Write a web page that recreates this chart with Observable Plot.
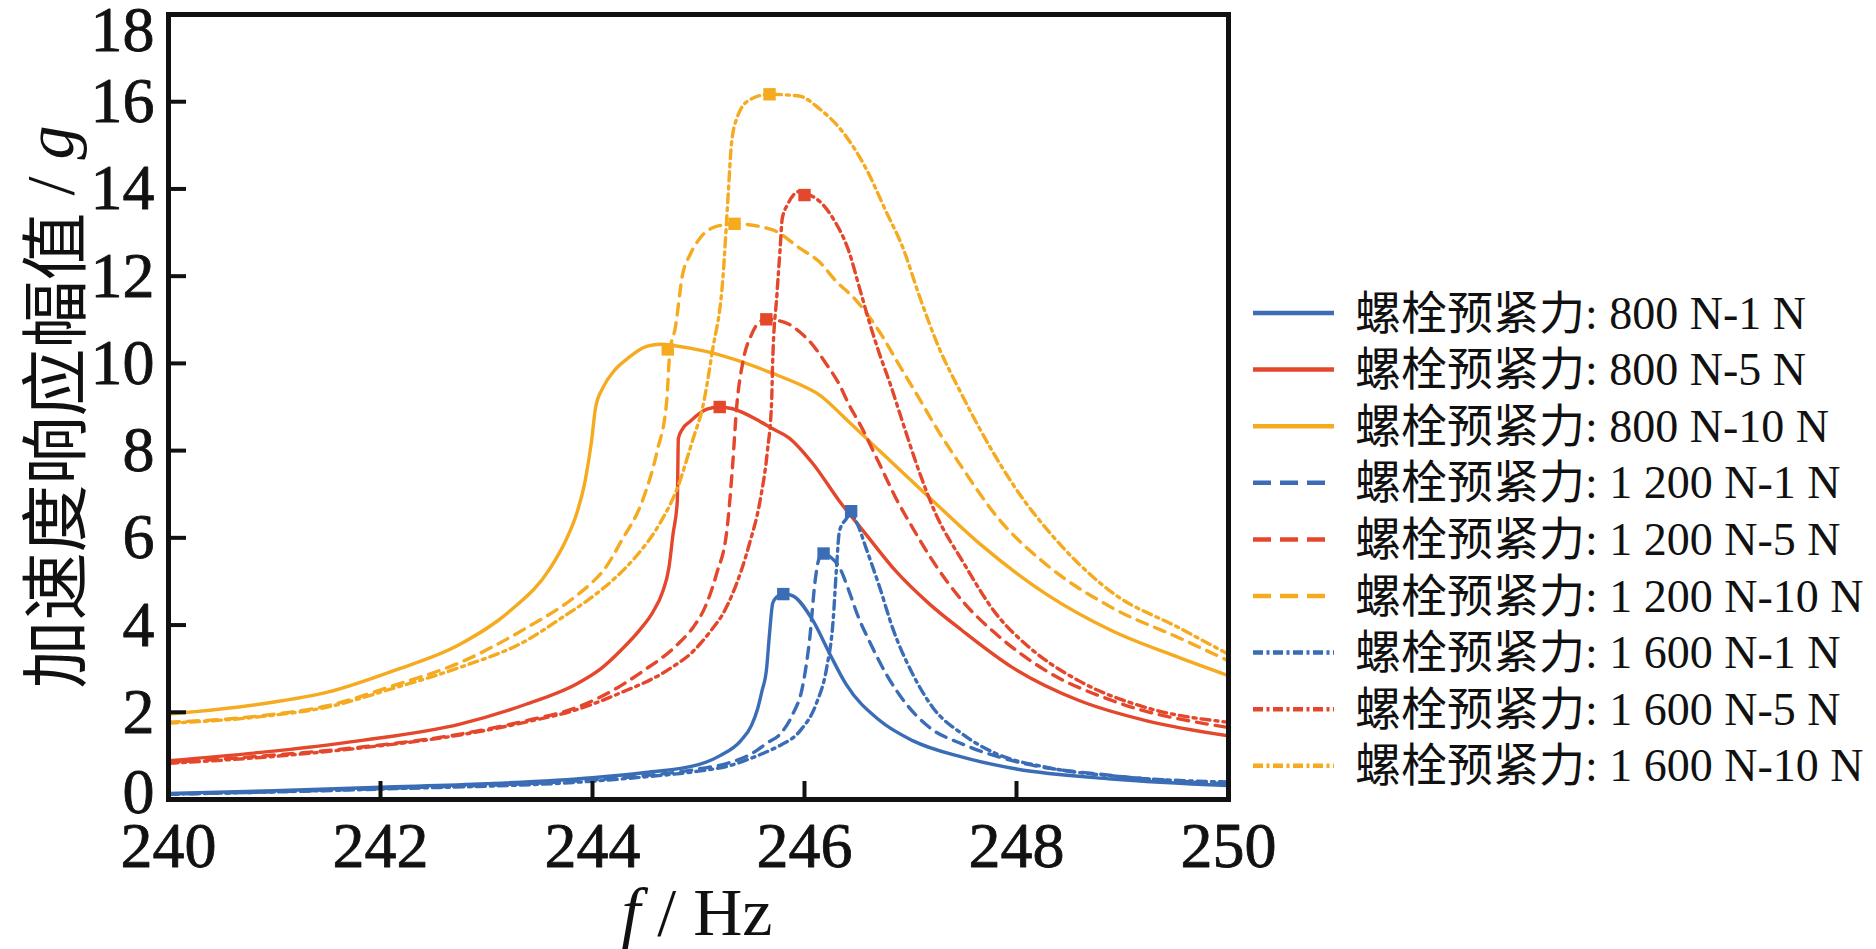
<!DOCTYPE html>
<html>
<head>
<meta charset="utf-8">
<script src="https://cdn.jsdelivr.net/npm/d3@7"></script>
<script src="https://cdn.jsdelivr.net/npm/@observablehq/plot@0.6"></script>
<style>
  html, body { margin: 0; padding: 0; background: #fff; }
  #wrap { position: relative; width: 1876px; height: 949px; overflow: hidden; }
  #wrap svg { position: absolute; left: 0; top: 0; }
  .xlab { position: absolute; left: 597px; top: 878px; width: 200px; text-align: center;
          font-family: "Liberation Serif", serif; font-size: 68px; line-height: 68px; color: #111; white-space: nowrap; }
</style>
</head>
<body>
<div id="wrap"></div>
<script>
// ---- data ----
const xTicks = [240, 242, 244, 246, 248, 250];
const yTicks = [0, 2, 4, 6, 8, 10, 12, 14, 16, 18];

const seriesNames = [
  "螺栓预紧力: 800 N-1 N", "螺栓预紧力: 800 N-5 N", "螺栓预紧力: 800 N-10 N",
  "螺栓预紧力: 1 200 N-1 N", "螺栓预紧力: 1 200 N-5 N", "螺栓预紧力: 1 200 N-10 N",
  "螺栓预紧力: 1 600 N-1 N", "螺栓预紧力: 1 600 N-5 N", "螺栓预紧力: 1 600 N-10 N"
];
const yTitleCJK = "加速度响应幅值";
const yTitleUnit = "g";

// 800 N-1 N
const f_800_1 = [240, 241, 242, 243, 244, 244.5, 245, 245.2, 245.4, 245.5, 245.56, 245.6, 245.64, 245.67, 245.7, 245.74, 245.8, 245.89, 246.08, 246.24, 246.39, 246.71, 247.02, 247.49, 248.0, 248.9, 250];
const g_800_1 = [0.14, 0.2, 0.28, 0.36, 0.5, 0.62, 0.8, 1.0, 1.35, 1.7, 2.1, 2.5, 2.95, 3.8, 4.5, 4.65, 4.72, 4.67, 4.1, 3.33, 2.65, 1.81, 1.35, 0.97, 0.7, 0.47, 0.32];
// 800 N-5 N
const f_800_5 = [240, 240.87, 241.81, 242.75, 243.38, 243.85, 244.08, 244.28, 244.45, 244.57, 244.66, 244.72, 244.76, 244.8, 244.81, 244.85, 244.92, 245.08, 245.2, 245.32, 245.58, 245.7, 245.85, 246.08, 246.33, 246.58, 246.86, 247.18, 247.49, 247.96, 248.59, 249.22, 250];
const g_800_5 = [0.89, 1.08, 1.35, 1.73, 2.19, 2.65, 3.0, 3.45, 3.9, 4.3, 4.75, 5.3, 6.09, 6.84, 8.28, 8.5, 8.67, 8.95, 9.0, 8.96, 8.67, 8.5, 8.3, 7.7, 6.84, 6.08, 5.24, 4.48, 3.87, 3.03, 2.27, 1.81, 1.46];
// 800 N-10 N
const f_800_10 = [240, 240.87, 241.5, 242.12, 242.75, 243.22, 243.6, 243.75, 243.85, 243.93, 243.99, 244.03, 244.1, 244.2, 244.33, 244.51, 244.65, 244.76, 245.08, 245.39, 245.7, 245.95, 246.14, 246.38, 246.71, 247.18, 247.66, 248.28, 248.9, 249.53, 250];
const g_800_10 = [1.96, 2.19, 2.46, 2.95, 3.56, 4.32, 5.3, 5.95, 6.55, 7.3, 8.2, 9.0, 9.45, 9.82, 10.11, 10.39, 10.44, 10.41, 10.27, 10.05, 9.77, 9.52, 9.28, 8.75, 7.99, 6.92, 5.85, 4.71, 3.87, 3.26, 2.84];
// 1 200 N-1 N
const f_1200_1 = [240, 242, 244, 244.5, 245, 245.3, 245.5, 245.65, 245.77, 245.89, 245.98, 246.05, 246.1, 246.14, 246.18, 246.25, 246.33, 246.42, 246.51, 246.61, 246.77, 246.96, 247.18, 247.49, 247.96, 248.9, 250];
const g_1200_1 = [0.12, 0.25, 0.45, 0.55, 0.7, 0.85, 1.05, 1.3, 1.5, 1.96, 2.57, 3.71, 5.01, 5.54, 5.64, 5.55, 5.32, 4.78, 4.17, 3.64, 2.88, 2.19, 1.65, 1.27, 0.89, 0.55, 0.36];
// 1 200 N-5 N
const f_1200_5 = [240, 240.9, 241.81, 242.75, 243.38, 243.85, 244.24, 244.48, 244.8, 244.95, 245.06, 245.17, 245.27, 245.32, 245.36, 245.42, 245.5, 245.58, 245.65, 245.86, 245.95, 246.05, 246.21, 246.33, 246.42, 246.52, 246.71, 246.86, 247.02, 247.21, 247.49, 247.81, 248.28, 248.9, 250];
const g_1200_5 = [0.85, 1.0, 1.2, 1.5, 1.81, 2.11, 2.57, 2.95, 3.55, 3.95, 4.4, 5.17, 6.22, 7.6, 9.0, 10.05, 10.66, 10.96, 11.01, 10.89, 10.73, 10.5, 9.97, 9.51, 9.05, 8.62, 7.68, 6.92, 6.23, 5.47, 4.55, 3.79, 2.95, 2.27, 1.65];
// 1 200 N-10 N
const f_1200_10 = [240, 240.87, 241.5, 242.12, 242.75, 243.38, 243.82, 244.01, 244.1, 244.27, 244.48, 244.61, 244.7, 244.73, 244.78, 244.85, 244.92, 245.01, 245.17, 245.34, 245.7, 245.95, 246.14, 246.3, 246.47, 246.74, 246.86, 246.99, 247.11, 247.21, 247.49, 247.81, 248.28, 248.9, 249.53, 250];
const g_1200_10 = [1.77, 1.92, 2.15, 2.61, 3.14, 3.94, 4.62, 5.01, 5.24, 5.92, 6.91, 7.99, 9.13, 10.27, 10.8, 12.04, 12.49, 12.86, 13.14, 13.2, 13.06, 12.65, 12.33, 11.88, 11.49, 10.6, 10.1, 9.57, 9.08, 8.66, 7.6, 6.5, 5.39, 4.4, 3.71, 3.18];
// 1 600 N-1 N
const f_1600_1 = [240, 242, 244, 244.5, 245, 245.3, 245.5, 245.65, 245.77, 245.96, 246.11, 246.21, 246.27, 246.3, 246.33, 246.39, 246.44, 246.5, 246.58, 246.71, 246.83, 247.02, 247.21, 247.49, 247.81, 248.28, 249, 250];
const g_1600_1 = [0.12, 0.24, 0.42, 0.52, 0.65, 0.78, 0.95, 1.1, 1.24, 1.58, 2.19, 3.03, 4.1, 5.24, 6.16, 6.42, 6.55, 6.31, 5.77, 4.86, 3.94, 2.88, 2.11, 1.5, 1.05, 0.74, 0.52, 0.4];
// 1 600 N-5 N
const f_1600_5 = [240, 240.9, 241.81, 242.75, 243.38, 243.85, 244.24, 244.73, 244.95, 245.11, 245.24, 245.32, 245.48, 245.58, 245.65, 245.69, 245.7, 245.74, 245.77, 245.79, 245.84, 245.95, 246.0, 246.11, 246.27, 246.42, 246.52, 246.61, 246.71, 246.8, 246.93, 247.08, 247.24, 247.49, 247.81, 248.12, 248.59, 249.22, 250];
const g_1600_5 = [0.83, 0.97, 1.18, 1.48, 1.78, 2.06, 2.42, 3.0, 3.4, 3.85, 4.3, 4.71, 5.86, 6.84, 7.99, 9.13, 10.05, 11.58, 12.63, 13.32, 13.64, 13.94, 13.9, 13.78, 13.32, 12.56, 11.72, 10.96, 10.2, 9.59, 8.62, 7.53, 6.54, 5.47, 4.25, 3.49, 2.72, 2.11, 1.77];
// 1 600 N-10 N
const f_1600_10 = [240, 240.87, 241.5, 242.12, 242.75, 243.38, 243.7, 244.0, 244.2, 244.42, 244.64, 244.8, 244.95, 245.04, 245.13, 245.23, 245.28, 245.31, 245.36, 245.48, 245.67, 245.95, 246.14, 246.36, 246.58, 246.77, 246.93, 247.08, 247.27, 247.46, 247.62, 247.96, 248.43, 248.9, 249.53, 250];
const g_1600_10 = [1.75, 1.9, 2.12, 2.55, 3.03, 3.65, 4.15, 4.65, 5.05, 5.6, 6.35, 7.14, 8.28, 9.0, 10.27, 11.95, 13.87, 15.01, 15.61, 16.04, 16.17, 16.13, 15.84, 15.31, 14.47, 13.48, 12.64, 11.57, 10.35, 9.4, 8.65, 7.25, 5.8, 4.75, 3.94, 3.33];

// peak markers (one per series, same order as seriesNames)
const peakF = [245.8, 245.2, 244.71, 246.18, 245.64, 245.34, 246.44, 246.0, 245.67];
const peakG = [4.71, 9.0, 10.32, 5.64, 11.01, 13.2, 6.61, 13.86, 16.17];

// ---- styles ----
const palette = {blue: "#3a6db5", red: "#e4472b", yellow: "#f5aa1f"};
const seriesColor = ["blue", "red", "yellow", "blue", "red", "yellow", "blue", "red", "yellow"].map(k => palette[k]);
const dashSolid = null, dashDashed = "11,8", dashDot = "9,5,3,5";
const seriesDash = [dashSolid, dashSolid, dashSolid, dashDashed, dashDashed, dashDashed, dashDot, dashDot, dashDot];
const legendDash = [null, null, null, "18,9", "18,9", "18,9", "10,3.5,3,3.5", "10,3.5,3,3.5", "10,3.5,3,3.5"];

const freqs = [f_800_1, f_800_5, f_800_10, f_1200_1, f_1200_5, f_1200_10, f_1600_1, f_1600_5, f_1600_10];
const amps  = [g_800_1, g_800_5, g_800_10, g_1200_1, g_1200_5, g_1200_10, g_1600_1, g_1600_5, g_1600_10];

const W = 1876, H = 949;
const mL = 168, mR = 648, mT = 14, mB = 150;
const plotW = W - mL - mR, plotH = H - mT - mB;

const lineMarks = seriesNames.map((name, i) => {
  const rows = freqs[i].map((f, j) => ({f, g: amps[i][j]}));
  return Plot.line(rows, {
    x: "f", y: "g", stroke: seriesColor[i], strokeWidth: 3.4,
    strokeDasharray: seriesDash[i], curve: "monotone-x", clip: true
  });
});

const peaks = seriesNames.map((name, i) => ({f: peakF[i], g: peakG[i], c: seriesColor[i]}));
const yTicksMid = yTicks.filter(t => t > 0 && t < 18);
const yTicksTop = yTicks.filter(t => t >= 18);
const yTicksBottom = yTicks.filter(t => t <= 0);
const axText = {tickSize: 0, fontSize: 64, textStroke: "#111", textStrokeWidth: 0.8, tickFormat: d => String(d)};

const chart = Plot.plot({
  width: W, height: H,
  marginLeft: mL, marginRight: mR, marginTop: mT, marginBottom: mB,
  style: {fontFamily: "'Liberation Serif', 'Times New Roman', serif", fontSize: "64px", color: "#111", background: "transparent", overflow: "visible"},
  x: {domain: [240, 250], ticks: xTicks, label: null},
  y: {domain: [0, 18], ticks: yTicks, label: null},
  marks: [
    ...lineMarks,
    Plot.dot(peaks, {x: "f", y: "g", symbol: "square", r: 7, fill: "c", stroke: "none"}),
    Plot.tickX(xTicks, {x: d => d, insetTop: plotH - 18, stroke: "#111", strokeWidth: 4}),
    Plot.tickY(yTicks, {y: d => d, insetRight: plotW - 18, stroke: "#111", strokeWidth: 4}),
    Plot.axisX({...axText, ticks: xTicks, tickPadding: 22}),
    Plot.axisY({...axText, ticks: yTicksMid, tickPadding: 14}),
    Plot.axisY({...axText, ticks: yTicksTop, tickPadding: 14, dy: 16}),
    Plot.axisY({...axText, ticks: yTicksBottom, tickPadding: 14, dy: -7}),
    Plot.frame({stroke: "#111", strokeWidth: 5})
  ]
});

const wrap = document.getElementById("wrap");
wrap.appendChild(chart);

// x axis title
const xl = document.createElement("div");
xl.className = "xlab";
xl.innerHTML = "<i>f</i> / Hz";
wrap.appendChild(xl);

// overlay: y title + legend
const over = d3.select(wrap).append("svg")
  .attr("width", W).attr("height", H)
  .style("pointer-events", "none");

const yt = over.append("text")
  .attr("transform", "translate(50,407) rotate(-90)")
  .attr("text-anchor", "middle")
  .attr("dominant-baseline", "central")
  .attr("font-size", 68)
  .attr("fill", "#111");
yt.append("tspan").attr("font-family", "'Noto Sans CJK SC', sans-serif").text(yTitleCJK);
yt.append("tspan").attr("font-family", "'Liberation Serif', serif").text(" / ");
yt.append("tspan").attr("font-family", "'Liberation Serif', serif").attr("font-style", "italic").text(yTitleUnit);

const legX0 = 1253, legX1 = 1334, legTextX = 1355, legY0 = 313, legDY = 56.6;
seriesNames.forEach((name, i) => {
  const y = legY0 + i * legDY;
  over.append("line")
    .attr("x1", legX0).attr("x2", legX1).attr("y1", y).attr("y2", y)
    .attr("stroke", seriesColor[i]).attr("stroke-width", 4.5)
    .attr("stroke-dasharray", legendDash[i]);
  over.append("text")
    .attr("x", legTextX).attr("y", y)
    .attr("dominant-baseline", "central")
    .attr("font-family", "'Liberation Serif', 'Noto Sans CJK SC', serif")
    .attr("font-size", 46)
    .attr("fill", "#111")
    .text(name);
});
</script>
</body>
</html>
